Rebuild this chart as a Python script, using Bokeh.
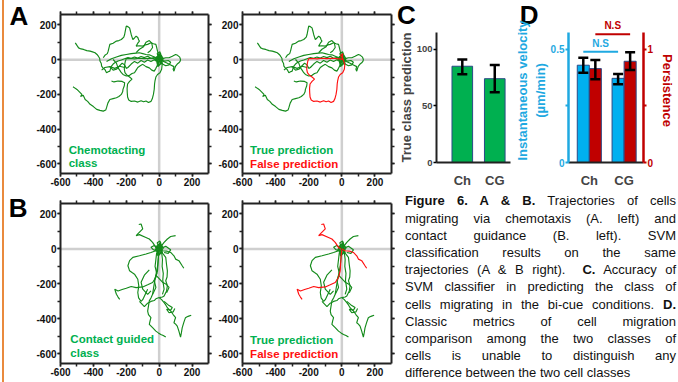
from bokeh.plotting import figure
from bokeh.models import (Range1d, LinearAxis, FixedTicker, Label, Span, Whisker,
                          TeeHead, ColumnDataSource, Div)
from bokeh.layouts import row, column
from bokeh.embed import file_html
from bokeh.resources import INLINE

# ------------------------------------------------------------------ data
# Panel A: chemotaxis trajectories (um); pred_ok = SVM predicted the right class
chemo_x = [
    [-524, -510, -500, -485, -470, -478, -462, -450, -435, -420, -400, -380, -360, -340, -325, -320, -312, -300, -280, -260, -245, -230, -222, -220, -212, -210, -225, -250, -275, -290],
    [-510, -500, -490, -475, -460, -440, -420, -405, -390, -378, -370, -362, -360, -352, -350, -340, -330, -320, -310, -300, -295, -290, -280, -270, -250, -230, -210, -190, -170, -150, -130, -110, -90, -70, -50, -30, -10, 0],
    [-340, -330, -315, -310, -300, -280, -260, -245, -230, -215, -210, -205, -200, -190, -180, -175, -170, -165, -160, -150, -140, -130, -125, -120, -130, -140, -120, -100, -85, -70, -50, -35, -20, -15, -10, -5, 0],
    [0, 20, 40, 60, 80, 100, 112, 125, 130, 128, 120, 110, 100, 95, 90, 85, 90, 70, 50, 30, 10],
    [-280, -260, -250, -240, -230, -220, -200, -180, -165, -150, -140, -130, -115, -100, -80, -60, -45, -30, -20, -10, 0],
    [-320, -290, -260, -230, -200, -170, -140, -120, -100, -80, -60, -40, -20, 0],
    [-300, -280, -260, -240, -225, -210, -200, -190, -170, -150, -130, -110, -90, -70, -50, -30, -10],
    [0, -12, 5, 15, -8, -20, 10, 25, -5, -15, 20, 8, -25, 0, 12, -10, 5, 0],
    [-350, -330, -300, -270, -240, -210],
    [-140, -120, -95, -80, -60, -45, -40, -55, -70],
    [0, 20, 40, 60, 70, 55, 35, 15],
    [5, -10, -30, -60, -90, -120, -150, -175, -200, -206, -210, -212, -208, -195, -180, -165, -180, -192, -195, -194, -192, -185, -170, -150, -130, -110, -95, -80, -65, -50, -42, -35, -30, -28, -25, -20, -10, 5, 15, 18, 12, 5, -8, 6, 0],
]
chemo_y = [
    [-156, -165, -171, -185, -200, -212, -205, -229, -240, -257, -270, -286, -292, -296, -290, -276, -250, -229, -224, -219, -212, -200, -185, -171, -150, -133, -125, -123, -128, -123],
    [97, 82, 68, 62, 59, 52, 49, 45, 40, 30, 20, 8, -8, -22, -37, -50, -56, -75, -70, -66, -50, -37, -25, -18, -8, -2, 5, 12, 8, 15, 10, 18, 12, 20, 8, 12, 4, 0],
    [11, 25, 35, 49, 88, 95, 107, 110, 116, 130, 145, 170, 193, 190, 183, 165, 145, 130, 116, 125, 135, 128, 115, 107, 95, 78, 80, 78, 85, 88, 97, 92, 88, 70, 49, 30, 11],
    [1, 6, 11, 11, 20, 30, 25, 15, 1, -8, -18, -25, -37, -50, -66, -55, -40, -30, -20, -12, -5],
    [1, -20, -47, -60, -75, -85, -94, -90, -80, -75, -60, -45, -35, -27, -40, -47, -60, -66, -50, -30, -10],
    [-10, 5, 15, 25, 30, 35, 38, 40, 35, 30, 28, 20, 12, 5],
    [-40, -60, -55, -35, -20, -30, -50, -45, -25, -10, -20, -5, -15, -2, -10, 0, -5],
    [0, 35, 45, -20, -40, 10, 30, 5, -35, 20, -25, 40, -5, -15, 15, -30, 25, 0],
    [-60, -45, -40, -50, -38, -45],
    [40, 60, 75, 100, 110, 95, 70, 50, 40],
    [-10, -25, -35, -30, -15, -5, -8, -3],
    [0, 5, 6, 8, 6, 8, 5, 7, 6, -10, -30, -55, -75, -90, -100, -112, -125, -140, -165, -190, -215, -232, -240, -238, -244, -236, -242, -238, -246, -240, -225, -200, -170, -140, -120, -100, -85, -75, -55, -30, -10, 10, 25, 35, 0],
]
chemo_pred_ok = [True, True, True, True, True, True, True, True, True, True, True, False]

# Panel B: contact-guided trajectories (um)
contact_x = [
    [-20, -50, -80, -120, -160, -180, -190, -185, -180, -165, -150, -130, -124, -130, -125, -110, -100, -90, -80, -70],
    [0, -5, -10, -20, -30, -40, -50, -60, -70, -65, -50, -55, -60, -40, -20, -5, 10, 25, 40],
    [0, 15, 30, 40, 50, 60, 70, 85, 100, 95, 90, 100, 110, 120, 130, 135, 140, 150, 160, 170, 180, 195],
    [0, 10, 30, 50, 70, 100],
    [10, 25, 40, 45, 50, 48, 40, 50, 45, 30, 20, 0],
    [-15, -20, -25, -15, -30, -20, -35, -40],
    [15, 20, 18, 25, 22, 30, 20],
    [-120, -100, -90, -70, -50, -30, -20, 0],
    [0, -12, 5, 15, -8, -20, 10, 25, -5, -15, 20, 8, -25, 0, 12, -10, 5, 0],
    [0, -30, -50, -35, -10],
    [0, 40, 70, 55, 30],
    [30, 55, 80, 70, 45, 60, 85, 95],
    [-60, -90, -110, -100, -70, -50],
    [-20, 0, 20, 40, 60, 45],
    [-4, -20, -40, -60, -84, -120, -140, -130, -100, -110, -124],
    [0, 20, 45, 70, 90, 100, 120, 140, 150],
    [0, -4, -6, -10, -20, -40, -70, -100, -140, -170, -200, -225, -250, -270, -265, -260, -250, -240],
]
contact_y = [
    [-10, -20, -29, -39, -48, -67, -96, -110, -125, -135, -144, -173, -211, -249, -280, -300, -290, -270, -250, -230],
    [0, -50, -100, -150, -200, -259, -280, -297, -355, -375, -393, -410, -431, -450, -470, -480, -489, -495, -504],
    [-278, -290, -307, -320, -336, -345, -355, -375, -393, -405, -422, -430, -441, -470, -504, -480, -451, -420, -393, -388, -384, -379],
    [0, 13, 38, 57, 71, 76],
    [-10, -30, -48, -90, -125, -160, -182, -210, -240, -269, -275, -278],
    [-20, -60, -100, -140, -180, -220, -250, -259],
    [-20, -60, -100, -140, -180, -230, -260],
    [-300, -320, -330, -310, -300, -295, -285, -278],
    [0, 35, 45, -20, -40, 10, 30, 5, -35, 20, -25, 40, -5, -15, 15, -30, 25, 0],
    [0, 20, 10, -5, -15],
    [0, 15, -5, -25, -20],
    [-300, -320, -335, -350, -345, -365, -360, -340],
    [-120, -150, -190, -230, -260, -240],
    [-150, -170, -190, -200, -220, -250],
    [0, 9, 38, 57, 67, 82, 76, 86, 115, 143, 140],
    [0, -10, -12, -20, -39, -58, -67, -96, -110],
    [-5, -40, -67, -125, -163, -192, -205, -217, -221, -215, -225, -232, -240, -230, -245, -259, -275, -288],
]
contact_pred_ok = [True] * 14 + [False, False, False]

traj_ticks = [-600, -400, -200, 0, 200]
traj_minor = [-600, -500, -400, -300, -200, -100, 0, 100, 200]

# Panel C
categories = ["Ch", "CG"]
true_class = [85, 74]
true_class_lo = [78, 62]
true_class_hi = [91, 86]
c_ticks = [0, 50, 100]

# Panel D
velocity = [0.43, 0.372]
velocity_lo = [0.397, 0.346]
velocity_hi = [0.463, 0.391]
persistence = [0.83, 0.895]
persistence_lo = [0.736, 0.818]
persistence_hi = [0.906, 0.974]
vel_ticks = [0, 0.25, 0.5]
pers_ticks = [0, 0.5, 1]
ns_vel_level = 0.49
ns_pers_level = 1.133

panel_letters = ["A", "B", "C", "D"]

caption_lines = [
    "<b>Figure 6. A &amp; B.</b> Trajectories of cells",
    "migrating via chemotaxis (A. left) and",
    "contact guidance (B. left). SVM",
    "classification results on the same",
    "trajectories (A &amp; B right). &nbsp;<b>C.</b> Accuracy of",
    "SVM classifier in predicting the class of",
    "cells migrating in the bi-cue conditions. <b>D.</b>",
    "Classic metrics of cell migration",
    "comparison among the two classes of",
    "cells is unable to distinguish any",
    "difference between the two cell classes",
]

# ------------------------------------------------------------------ style
FONT = "Liberation Sans"
GREEN_LINE = "#138a1a"
GREEN_TEXT = "#00B050"
RED = "#FF1010"
AXC = "#222222"
BLUE = "#1FA9E1"
BLUE_BAR = "#00B0F0"
DRED = "#C00000"
BAR_EDGE = "#2A4A86"
ORANGE = "#E98A3D"


def fig_box(x0, x1, y0, y1, fl, fr, ft, fb, xr, yr):
    p = figure(width=x1 - x0, height=y1 - y0, x_range=xr, y_range=yr,
               output_backend="svg", toolbar_location=None, tools="",
               x_axis_type=None, y_axis_type=None,
               min_border_left=fl - x0, min_border_right=x1 - fr,
               min_border_top=ft - y0, min_border_bottom=y1 - fb)
    p.outline_line_color = None
    p.background_fill_color = "white"
    p.border_fill_alpha = 0
    p.margin = 0
    p.frame_align = False
    return p


def frame_axis(labeled, **kw):
    ax = LinearAxis(ticker=FixedTicker(ticks=traj_ticks, minor_ticks=traj_minor), **kw)
    ax.axis_line_width = 2
    ax.axis_line_color = AXC
    ax.major_tick_in = 0
    ax.major_tick_out = 3
    ax.minor_tick_in = 0
    ax.minor_tick_out = 3
    ax.major_tick_line_width = 1.5
    ax.minor_tick_line_width = 1.5
    ax.major_tick_line_color = AXC
    ax.minor_tick_line_color = AXC
    ax.axis_label_standoff = 0
    if labeled:
        ax.major_label_overrides = {t: str(t) for t in traj_ticks}
        ax.major_label_text_font = FONT
        ax.major_label_text_font_style = "bold"
        ax.major_label_text_font_size = "10px"
        ax.major_label_text_color = "#111111"
        ax.major_label_standoff = 1
    else:
        ax.major_label_overrides = {t: "" for t in traj_ticks}
        ax.major_label_text_color = None
        ax.major_label_text_font_size = "1px"
        ax.major_label_standoff = 0
    return ax


def traj_panel(x0, x1, y0, y1, fl, fr, ft, fb, xs, ys, ok, highlight, texts=()):
    p = fig_box(x0, x1, y0, y1, fl, fr, ft, fb, Range1d(-600, 300), Range1d(-655, 260))
    p.add_layout(frame_axis(True), "below")
    p.add_layout(frame_axis(True), "left")
    p.add_layout(frame_axis(False), "above")
    p.add_layout(frame_axis(False), "right")
    for dim in ("height", "width"):
        p.add_layout(Span(location=0, dimension=dim, line_color="#cfcfcf",
                          line_width=2.5, level="underlay"))
    order = sorted(range(len(xs)), key=lambda i: (not ok[i]) if highlight else 0)
    cols = [(RED if (highlight and not ok[i]) else GREEN_LINE) for i in order]
    src = ColumnDataSource(dict(xs=[xs[i] for i in order], ys=[ys[i] for i in order], c=cols))
    p.multi_line("xs", "ys", source=src, line_color="c", line_width=1.15)
    for (tx, ty, t, col) in texts:
        p.add_layout(Label(x=tx, y=ty, text=t, text_color=col, text_font=FONT,
                           text_font_style="bold", text_font_size="11.5px",
                           text_baseline="alphabetic"))
    return p


pA1 = traj_panel(6, 212, 0, 190, 60, 208, 14, 173, chemo_x, chemo_y, chemo_pred_ok, False,
                 texts=[(-550, -521, "Chemotacting", GREEN_TEXT), (-550, -597, "class", GREEN_TEXT)])
pA2 = traj_panel(212, 395, 0, 190, 242, 391, 14, 173, chemo_x, chemo_y, chemo_pred_ok, True,
                 texts=[(-554, -521, "True prediction", GREEN_TEXT), (-554, -601, "False prediction", RED)])
pB1 = traj_panel(6, 212, 190, 382, 60, 208, 203, 363, contact_x, contact_y, contact_pred_ok, False,
                 texts=[(-540, -517, "Contact guided", GREEN_TEXT), (-540, -594, "class", GREEN_TEXT)])
pB2 = traj_panel(212, 395, 190, 382, 242, 391, 203, 363, contact_x, contact_y, contact_pred_ok, True,
                 texts=[(-554, -521, "True prediction", GREEN_TEXT), (-554, -600, "False prediction", RED)])

# ------------------------------------------------------------------ panel C
idx = list(range(len(categories)))
pC = fig_box(395, 511, 0, 190, 430, 510, 32, 164, Range1d(-0.795, 1.485), Range1d(0, 114.8))
cx = LinearAxis(ticker=FixedTicker(ticks=idx), major_label_overrides={i: c for i, c in zip(idx, categories)})
cy = LinearAxis(ticker=FixedTicker(ticks=c_ticks), axis_label="True class prediction")
for ax in (cx, cy):
    ax.axis_line_width = 2
    ax.axis_line_color = AXC
    ax.major_label_text_font = FONT
    ax.major_label_text_font_style = "bold"
    ax.minor_tick_line_color = None
    ax.axis_label_standoff = 0
cx.major_tick_line_color = None
cx.major_label_text_font_size = "13px"
cx.major_label_standoff = 4
cy.major_tick_in = 0
cy.major_tick_out = 3
cy.major_tick_line_width = 1.5
cy.major_label_text_font_size = "9.5px"
cy.major_label_standoff = 1
cy.axis_label_text_font = FONT
cy.axis_label_text_font_style = "bold"
cy.axis_label_text_font_size = "13px"
pC.add_layout(cx, "below")
pC.add_layout(cy, "left")
srcC = ColumnDataSource(dict(x=idx, top=true_class, lo=true_class_lo, hi=true_class_hi))
pC.vbar(x="x", top="top", width=0.635, source=srcC, fill_color="#00B050",
        line_color=BAR_EDGE, line_width=1)
pC.add_layout(Whisker(source=srcC, base="x", lower="lo", upper="hi", line_width=2.5,
                      line_color="black", level="annotation",
                      upper_head=TeeHead(size=10, line_width=2.5, line_color="black"),
                      lower_head=TeeHead(size=10, line_width=2.5, line_color="black")))

# ------------------------------------------------------------------ panel D
pD = fig_box(511, 678, 0, 190, 559, 648, 18, 164, Range1d(-0.598, 1.557), Range1d(0, 0.6365))
pD.extra_y_ranges = {"pers": Range1d(0, 1.273)}
dx = LinearAxis(ticker=FixedTicker(ticks=idx), major_label_overrides={i: c for i, c in zip(idx, categories)})
dy = LinearAxis(ticker=FixedTicker(ticks=vel_ticks), bounds=(0, 0.575),
                axis_label="Instantaneous velocity\n(\u00b5m/min)",
                major_label_overrides={0.25: ""})
dr = LinearAxis(ticker=FixedTicker(ticks=pers_ticks), bounds=(0, 1.15), y_range_name="pers",
                axis_label="Persistence", major_label_overrides={0.5: ""})
dx.axis_line_width = 2
dx.axis_line_color = AXC
dx.major_tick_line_color = None
dx.minor_tick_line_color = None
dx.major_label_text_font = FONT
dx.major_label_text_font_style = "bold"
dx.major_label_text_font_size = "13px"
dx.major_label_standoff = 4
dx.axis_label_standoff = 0
for ax, col in ((dy, BLUE), (dr, DRED)):
    ax.axis_line_width = 2.5
    ax.axis_line_color = col
    ax.major_tick_line_color = col
    ax.major_tick_line_width = 2
    ax.major_tick_in = 0
    ax.major_tick_out = 3
    ax.minor_tick_line_color = None
    ax.major_label_text_color = col
    ax.major_label_text_font = FONT
    ax.major_label_text_font_style = "bold"
    ax.major_label_text_font_size = "10px"
    ax.major_label_standoff = 1
    ax.axis_label_text_color = col
    ax.axis_label_text_font = FONT
    ax.axis_label_text_font_style = "bold"
    ax.axis_label_text_font_size = "13px"
    ax.axis_label_standoff = 1
dy.axis_label_standoff = 0
dr.axis_label_standoff = 4
pD.add_layout(dx, "below")
pD.add_layout(dy, "left")
pD.add_layout(dr, "right")
OFF = 0.173
vx = [i - OFF for i in idx]
px = [i + OFF for i in idx]
srcV = ColumnDataSource(dict(x=vx, top=velocity, lo=velocity_lo, hi=velocity_hi))
srcP = ColumnDataSource(dict(x=px, top=persistence, lo=persistence_lo, hi=persistence_hi))
pD.vbar(x="x", top="top", width=2 * OFF, source=srcV, fill_color=BLUE_BAR, line_color=BAR_EDGE, line_width=1)
pD.vbar(x="x", top="top", width=2 * OFF, source=srcP, fill_color=DRED, line_color=BAR_EDGE,
        line_width=1, y_range_name="pers")
for s, rn in ((srcV, "default"), (srcP, "pers")):
    pD.add_layout(Whisker(source=s, base="x", lower="lo", upper="hi", line_width=2.5,
                          line_color="black", level="annotation", y_range_name=rn,
                          upper_head=TeeHead(size=10, line_width=2.5, line_color="black"),
                          lower_head=TeeHead(size=10, line_width=2.5, line_color="black")))
# N.S brackets between the two classes
pD.segment(x0=[vx[0]], y0=[ns_vel_level], x1=[vx[1]], y1=[ns_vel_level], line_color=BLUE, line_width=2)
pD.segment(x0=[px[0]], y0=[ns_pers_level], x1=[px[1]], y1=[ns_pers_level], line_color=DRED,
           line_width=2, y_range_name="pers")
pD.add_layout(Label(x=(vx[0] + vx[1]) / 2, y=ns_vel_level, y_offset=3, text="N.S", text_color=BLUE,
                    text_align="center", text_baseline="bottom", text_font=FONT,
                    text_font_style="bold", text_font_size="10px"))
pD.add_layout(Label(x=(px[0] + px[1]) / 2, y=ns_pers_level, y_offset=3, text="N.S", text_color=DRED,
                    text_align="center", text_baseline="bottom", text_font=FONT,
                    text_font_style="bold", text_font_size="10px", y_range_name="pers"))

# ------------------------------------------------------------------ caption
LH = 17.2
line_divs = []
for k, ln in enumerate(caption_lines):
    last = "left" if k == len(caption_lines) - 1 else "justify"
    line_divs.append(
        f'<div style="text-align:justify;text-align-last:{last};height:{LH}px;'
        f'line-height:{LH}px;white-space:nowrap;">{ln}</div>')
caption = Div(text=(f'<div style="font-family:\'{FONT}\';font-size:13px;color:#111;'
                    f'width:271px;margin-left:10px;padding-top:2.4px;">' + "".join(line_divs) + "</div>"),
              width=678 - 395, height=382 - 190, margin=0)

# ------------------------------------------------------------------ left border line + panel letters
letter_pos = [(9.5, 3.3), (8.8, 194.9), (397.0, 2.0), (519.8, 2.0)]
letters_html = "".join(
    f'<div style="position:absolute;left:{lx}px;top:{ly}px;font-family:\'{FONT}\';font-weight:bold;'
    f'font-size:26px;line-height:26px;color:#000;white-space:nowrap;">{t}</div>'
    for t, (lx, ly) in zip(panel_letters, letter_pos))
border = Div(text=(f'<div style="position:relative;width:6px;height:382px;overflow:visible;">'
                   f'<div style="position:absolute;left:2px;top:0;width:2px;height:382px;background:{ORANGE};"></div>'
                   + letters_html + '</div>'),
             width=6, height=382, margin=0, styles={"overflow": "visible"})

layout = row(border,
             column(row(pA1, pA2, pC, pD, spacing=0), row(pB1, pB2, caption, spacing=0), spacing=0),
             spacing=0)

open("out.html", "w").write(file_html(layout, INLINE))
